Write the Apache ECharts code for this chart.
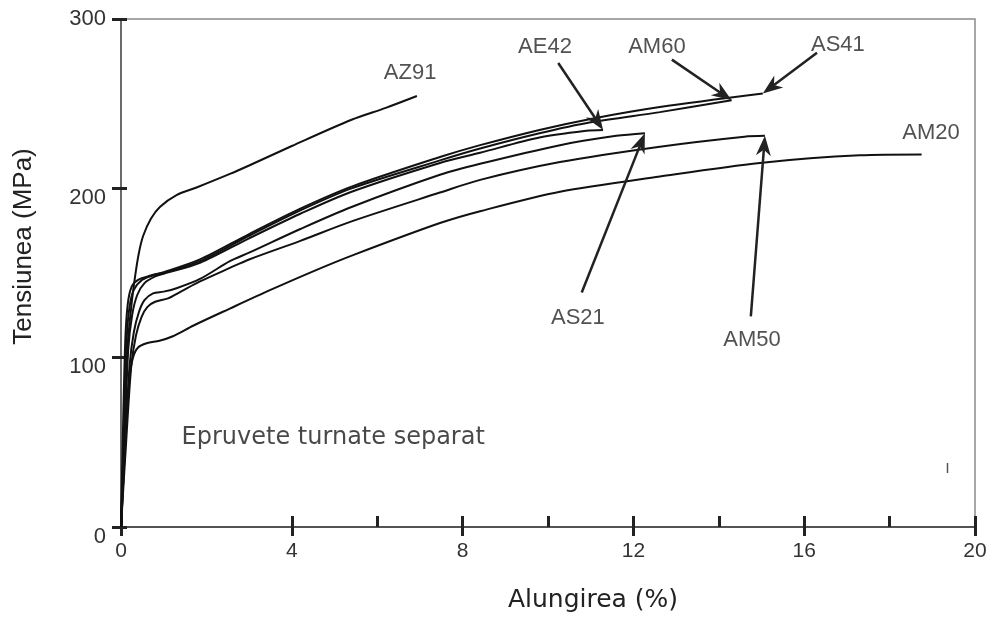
<!DOCTYPE html>
<html>
<head>
<meta charset="utf-8">
<title>Curbe tensiune–alungire, aliaje de magneziu</title>
<script src="https://cdn.jsdelivr.net/npm/echarts@6/dist/echarts.min.js"></script>
<style>
  html, body { margin: 0; padding: 0; background: #fff; }
  #chart { width: 992px; height: 618px; }
</style>
</head>
<body>
<div id="chart"></div>
<script>
// Stress–strain curves of separately cast magnesium alloy specimens.
// Each point is [elongation %, stress MPa].
const alloys = ['AZ91', 'AE42', 'AM60', 'AS41', 'AS21', 'AM50', 'AM20'];

const az91 = [[0,0],[0.07,50],[0.15,105],[0.24,130],[0.33,148],[0.42,162],[0.52,172],[0.7,182],
  [0.91,189],[1.3,196],[1.77,200.5],[2.55,208.5],[3.0,213.5],[4.0,225],[5.4,240.5],[6.2,247.5],[6.93,254.5]];

const ae42 = [[0,0],[0.08,50],[0.17,105],[0.26,125],[0.38,137],[0.55,144],[0.8,148],[1.0,149.5],
  [1.85,156],[3.0,170.5],[4.2,185],[5.4,198],[7.47,215],[8.41,221],[9.8,230],[10.9,234],[11.29,234.5]];

const am60 = [[0,0],[0.06,50],[0.13,110],[0.2,130],[0.3,140],[0.5,146],[0.8,149],[1.0,150],
  [1.85,157],[3.0,172],[4.2,187],[5.4,200],[7.47,216.5],[8.41,223.5],[9.8,232.5],[11.0,239],
  [12.62,245],[14.3,252]];

const as41 = [[0,0],[0.04,50],[0.1,110],[0.16,132],[0.25,142],[0.4,146],[0.7,148.5],[1.0,150.5],
  [1.85,158],[3.0,173],[4.2,188],[5.4,201],[7.47,218.5],[8.41,225.5],[9.8,234.5],[11.0,241],
  [12.62,248],[15.03,256]];

const as21 = [[0,0],[0.1,50],[0.2,95],[0.3,115],[0.42,127],[0.55,134],[0.75,138],[1.0,139],
  [1.3,141],[1.85,146.5],[2.55,157],[3.0,162],[4.2,176],[5.4,189],[7.47,208],[8.41,214.5],
  [10.28,225.5],[11.6,231],[12.27,232.6]];

const am50 = [[0,0],[0.12,50],[0.24,95],[0.35,113],[0.48,124],[0.62,130],[0.8,133],[1.1,135],
  [1.4,139],[1.85,145],[2.55,153],[3.0,158],[4.2,169],[5.4,180.5],[7.47,197.5],[8.41,205],
  [10.28,215.5],[12.62,224.6],[14.6,230.5],[15.08,231]];

const am20 = [[0,0],[0.1,50],[0.2,88],[0.28,100],[0.4,106],[0.6,108.5],[0.9,110],[1.2,112.5],
  [1.7,119],[2.55,129],[3.5,140],[4.5,151],[5.48,161],[7.47,179.5],[8.41,186.5],[10.28,198],
  [12.62,207],[14.96,215],[17.3,219.5],[18.75,220]];

const curves = [az91, ae42, am60, as41, as21, am50, am20];

// Axis tick values
const xTickLabels = [0, 4, 8, 12, 16, 20];
const xInnerTicks = [0, 4, 6, 8, 10, 12, 14, 16, 18, 20];
const yTickLabels = [0, 100, 200, 300];

// Callout text placement (axis units)
const calloutNames = ['AZ91', 'AE42', 'AM60', 'AS41', 'AM20', 'AS21', 'AM50'];
const calloutAt = [[6.77,268],[9.93,283.5],[12.55,283.5],[16.79,284.5],[18.97,232.5],[10.7,123.5],[14.78,110.5]];

// Arrow tails (axis units); arrow heads point at the end of each named curve
const arrowNames = ['AE42', 'AM60', 'AS41', 'AS21', 'AM50'];
const arrowTail = [[10.24,274],[12.9,276],[16.3,280],[10.79,138.5],[14.75,124.4]];

const noteText = 'Epruvete turnate separat';
const noteAt = [4.97, 52.5];

const arrowData = arrowNames.map((name, i) => {
  const c = curves[alloys.indexOf(name)];
  const end = c[c.length - 1];
  return [arrowTail[i][0], arrowTail[i][1], end[0], end[1]];
});

const xStep = xTickLabels[1] - xTickLabels[0];
const yStep = yTickLabels[1] - yTickLabels[0];
const xMin = xTickLabels[0], xMax = xTickLabels[xTickLabels.length - 1];
const yMin = yTickLabels[0], yMax = yTickLabels[yTickLabels.length - 1];

const tickStyle = { color: '#222', width: 3 };
const labelFont = 'Liberation Sans';
const yLabelText = { fontFamily: labelFont, fontSize: 22, color: '#333' };

const chart = echarts.init(document.getElementById('chart'), null, { renderer: 'canvas' });

const lineSeries = alloys.map((name, i) => ({
  name,
  type: 'line',
  xAxisIndex: 0,
  yAxisIndex: 0,
  data: curves[i],
  showSymbol: false,
  smooth: 0.3,
  lineStyle: { color: '#111', width: 2 },
  silent: true,
  z: 3
}));

function drawArrow(params, api) {
  const a = api.coord([api.value(0), api.value(1)]);
  const b = api.coord([api.value(2), api.value(3)]);
  const dx = b[0] - a[0], dy = b[1] - a[1];
  const len = Math.hypot(dx, dy);
  const ux = dx / len, uy = dy / len;
  const nx = -uy, ny = ux;
  const headLen = 20, halfW = 7.5, notch = 14;
  const base = [b[0] - ux * headLen, b[1] - uy * headLen];
  const mid = [b[0] - ux * notch, b[1] - uy * notch];
  return {
    type: 'group',
    children: [
      { type: 'line', shape: { x1: a[0], y1: a[1], x2: mid[0], y2: mid[1] },
        style: { stroke: '#222', lineWidth: 2.5 } },
      { type: 'polygon', shape: { points: [b, [base[0] + nx * halfW, base[1] + ny * halfW], mid,
          [base[0] - nx * halfW, base[1] - ny * halfW]] },
        style: { fill: '#222' } }
    ]
  };
}

const option = {
  animation: false,
  backgroundColor: '#fff',
  grid: { left: 121, right: 17, top: 19, bottom: 90, show: true, borderColor: '#8a8a8a', borderWidth: 1.5, backgroundColor: 'transparent' },
  xAxis: [
    {
      type: 'value', min: xMin, max: xMax, interval: xStep, position: 'bottom',
      axisLine: { show: true, lineStyle: { color: '#3a3a3a', width: 1.5 } },
      axisTick: { show: true, inside: false, length: 9, lineStyle: tickStyle },
      axisLabel: { show: true, margin: 14, fontFamily: labelFont, fontSize: 21, color: '#333' },
      splitLine: { show: false },
      name: 'Alungirea (%)', nameLocation: 'middle', nameGap: 61,
      nameTextStyle: { fontFamily: 'DejaVu Sans', fontSize: 25, color: '#222', padding: [0, 0, 0, 90] }
    },
    {
      type: 'value', min: xMin, max: xMax, interval: xStep, position: 'bottom',
      axisLine: { show: false },
      axisTick: { show: true, inside: true, length: 11, lineStyle: tickStyle, customValues: xInnerTicks },
      axisLabel: { show: false },
      splitLine: { show: false }
    }
  ],
  yAxis: [
    {
      type: 'value', min: yMin, max: yMax, interval: yStep, position: 'left',
      axisLine: { show: true, lineStyle: { color: '#6a6a6a', width: 2 } },
      axisTick: { show: true, inside: false, length: 9, lineStyle: tickStyle },
      axisLabel: {
        show: true, margin: 15, ...yLabelText,
        formatter: v => (v === yMax ? '{top|' + v + '}' : '{low|' + v + '}'),
        rich: { top: { ...yLabelText }, low: { ...yLabelText, padding: [19, 0, 0, 0] } }
      },
      splitLine: { show: false },
      name: 'Tensiunea (MPa)', nameLocation: 'middle', nameGap: 84, nameRotate: 90,
      nameTextStyle: { fontFamily: labelFont, fontSize: 26, color: '#222', padding: [0, 0, 0, 53] }
    },
    {
      type: 'value', min: yMin, max: yMax, interval: yStep, position: 'left',
      axisLine: { show: false },
      axisTick: { show: true, inside: true, length: 6, lineStyle: tickStyle },
      axisLabel: { show: false },
      splitLine: { show: false }
    }
  ],
  series: [
    ...lineSeries,
    {
      type: 'custom',
      xAxisIndex: 0, yAxisIndex: 0,
      data: arrowData,
      encode: { x: [0, 2], y: [1, 3] },
      renderItem: drawArrow,
      silent: true,
      z: 4
    },
    {
      type: 'scatter',
      xAxisIndex: 0, yAxisIndex: 0,
      data: calloutNames.map((n, i) => ({ name: n, value: calloutAt[i] })),
      symbolSize: 1,
      itemStyle: { color: 'transparent' },
      label: { show: true, position: 'inside', formatter: '{b}', fontFamily: labelFont, fontSize: 22, color: '#262626' },
      silent: true,
      z: 5
    },
    {
      type: 'scatter',
      xAxisIndex: 0, yAxisIndex: 0,
      data: [{ name: noteText, value: noteAt }],
      symbolSize: 1,
      itemStyle: { color: 'transparent' },
      label: { show: true, position: 'inside', formatter: '{b}', fontFamily: 'DejaVu Sans', fontSize: 24, color: '#1a1a1a' },
      silent: true,
      z: 5
    }
  ],
  graphic: [
    { type: 'line', shape: { x1: 947.5, y1: 463, x2: 947.5, y2: 473 }, style: { stroke: '#555', lineWidth: 1.5 }, silent: true }
  ]
};

chart.setOption(option);
</script>
</body>
</html>
